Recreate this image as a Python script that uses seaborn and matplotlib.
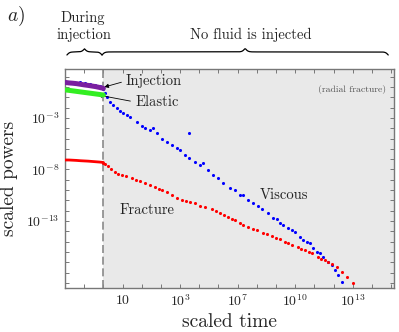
import numpy as np
import pandas as pd
import matplotlib
matplotlib.use("Agg")
import matplotlib.pyplot as plt
import matplotlib.transforms as mtransforms
import seaborn as sns

# x is the position on the scaled-time axis (tick index), y values are log10 of the scaled power
inj_t = [0.0, 0.2, 0.4, 0.6, 0.8, 1.0, 1.2, 1.4, 1.6, 1.8, 2.0]
injection_log = [0.45, 0.40, 0.37, 0.33, 0.27, 0.21, 0.16, 0.10, 0.04, -0.04, -0.13]
elastic_log = [-0.28, -0.32, -0.37, -0.42, -0.47, -0.52, -0.57, -0.62, -0.67, -0.72, -0.77]
fracture_inj_log = [-7.08, -7.08, -7.10, -7.12, -7.15, -7.17, -7.19, -7.22, -7.25, -7.28, -7.32]

viscous_t = [0.78, 1.04, 1.30, 1.56, 1.82,
             1.98, 2.08, 2.19, 2.34, 2.50, 2.71, 2.86, 3.02, 3.23, 3.39, 3.75, 4.01, 4.17,
             4.43, 4.58, 4.79, 5.05, 5.31, 5.57, 5.83, 5.99, 6.25, 6.46, 6.46, 6.77, 7.03,
             7.19, 7.45, 7.71, 7.97, 8.23, 8.59, 8.85, 9.11, 9.27, 9.53, 9.79, 10.05, 10.26,
             10.57, 10.83, 11.04, 11.20, 11.35, 11.61, 11.82, 11.98, 12.24, 12.40, 12.60,
             12.76, 12.92, 13.13, 13.28, 13.44, 13.70, 13.91, 14.06, 14.22, 14.43]
viscous_log = [0.50, 0.40, 0.30, 0.20, 0.11,
               -0.18, -0.57, -0.96, -1.45, -1.74, -2.03, -2.32, -2.51, -2.71, -2.90, -3.39,
               -3.78, -3.97, -4.17, -3.97, -4.46, -5.04, -5.33, -5.62, -5.91, -6.11, -6.59,
               -4.46, -6.88, -7.27, -7.56, -7.37, -8.05, -8.53, -8.83, -9.31, -9.80, -9.99,
               -10.48, -10.48, -10.96, -11.25, -11.54, -11.83, -12.22, -12.71, -12.81,
               -13.19, -13.39, -13.68, -13.87, -14.07, -14.55, -14.84, -15.04, -15.14,
               -15.62, -16.01, -16.11, -16.50, -16.98, -17.27, -17.76, -18.24, -18.92]

fracture_t = [1.98, 2.10, 2.24, 2.40, 2.60, 2.78, 2.97, 3.20, 3.49, 3.70, 3.91, 4.17, 4.45,
              4.69, 4.88, 5.05, 5.30, 5.57, 5.85, 6.09, 6.30, 6.51, 6.77, 7.03, 7.29, 7.66,
              7.85, 8.07, 8.30, 8.49, 8.70, 8.85, 9.11, 9.30, 9.53, 9.78, 10.0, 10.31, 10.55,
              10.78, 11.0, 11.2, 11.46, 11.65, 11.82, 12.14, 12.32, 12.5, 12.70, 12.86, 13.18,
              13.36, 13.54, 13.72, 13.91, 14.17, 14.43, 14.69, 15.0]
fracture_log = [-7.37, -7.50, -7.66, -7.95, -8.24, -8.40, -8.53, -8.68, -8.83, -8.98, -9.12,
                -9.31, -9.52, -9.70, -9.85, -9.99, -10.22, -10.48, -10.74, -10.96, -11.08,
                -11.16, -11.25, -11.54, -11.64, -11.83, -12.02, -12.22, -12.42, -12.61,
                -12.78, -12.90, -13.19, -13.38, -13.58, -13.74, -13.87, -14.17, -14.30,
                -14.46, -14.62, -14.75, -15.04, -15.18, -15.33, -15.52, -15.68, -15.82,
                -15.98, -16.11, -16.50, -16.64, -16.79, -16.98, -17.17, -17.47, -17.95,
                -18.44, -19.02]

time_tick_labels = ["$10$", "$10^{3}$", "$10^{7}$", "$10^{10}$", "$10^{13}$"]
power_tick_labels = {-3: "$10^{-3}$", -8: "$10^{-8}$", -13: "$10^{-13}$"}
t_end_injection = 2.0

sns.set_style("ticks")
plt.rcParams["mathtext.fontset"] = "cm"
plt.rcParams["font.family"] = ["cmr10", "DejaVu Serif"]
plt.rcParams["axes.unicode_minus"] = False

inj = pd.DataFrame({"t": inj_t, "Injection": 10.0 ** np.array(injection_log),
                    "Elastic": 10.0 ** np.array(elastic_log),
                    "Fracture": 10.0 ** np.array(fracture_inj_log)})
visc = pd.DataFrame({"t": viscous_t, "p": 10.0 ** np.array(viscous_log)})
frac = pd.DataFrame({"t": fracture_t, "p": 10.0 ** np.array(fracture_log)})

fig = plt.figure(figsize=(3.99, 3.32), dpi=100)
ax = fig.add_axes([65 / 399, 44 / 332, 329 / 399, 219 / 332])
ax.set_yscale("log")
ax.set_xlim(0, 17.15)
ax.set_ylim(10 ** -19.5, 10 ** 1.75)

ax.axvspan(t_end_injection, 17.15, color="#e9e9e9", zorder=0, lw=0)
ax.axvline(t_end_injection, color="#8a8a8a", lw=1.2, dashes=(4.8, 2.2), zorder=1)

sns.scatterplot(data=visc, x="t", y="p", color="#0000ff", s=5, linewidth=0, ax=ax, zorder=3)
sns.lineplot(data=inj, x="t", y="Injection", color="#7a1fa0", lw=3.6, ax=ax, zorder=4)
sns.lineplot(data=inj, x="t", y="Elastic", color="#33ee22", lw=3.6, ax=ax, zorder=4)
sns.lineplot(data=inj, x="t", y="Fracture", color="#ff0000", lw=2.0, ax=ax, zorder=4)
sns.scatterplot(data=frac, x="t", y="p", color="#ff0000", s=5, linewidth=0, ax=ax, zorder=3)

ax.set_xticks(range(0, 18))
ax.set_xticklabels([time_tick_labels[(k // 3) - 1] if k % 3 == 0 and 3 <= k <= 15 else ""
                    for k in range(0, 18)])
decades = list(range(-19, 2))
ax.set_yticks([10.0 ** k for k in decades])
ax.set_yticklabels([power_tick_labels.get(k, "") for k in decades])
ax.yaxis.set_minor_locator(matplotlib.ticker.NullLocator())
ax.tick_params(direction="in", length=3, width=0.7, color="#777777", labelsize=10,
               top=True, right=True, pad=4)
for sp in ax.spines.values():
    sp.set_color("#777777")
    sp.set_linewidth(1.0)

ax.set_xlabel("scaled time", fontsize=14, labelpad=3)
ax.set_ylabel("scaled powers", fontsize=14, labelpad=6)

ax.annotate("Injection", xy=(2.05, 10 ** 0.0), xytext=(3.18, 10 ** 0.59), fontsize=10.5,
            ha="left", va="center",
            arrowprops=dict(arrowstyle="-|>", color="black", lw=0.6, mutation_scale=6,
                            relpos=(0, 0.5), shrinkA=1, shrinkB=0))
ax.annotate("Elastic", xy=(1.72, 10 ** -0.77), xytext=(3.65, 10 ** -1.45), fontsize=10.5,
            ha="left", va="center",
            arrowprops=dict(arrowstyle="-|>", color="black", lw=0.6, mutation_scale=6,
                            relpos=(0, 0.5), shrinkA=1, shrinkB=0))
ax.text(4.27, 10 ** -11.93, "Fracture", fontsize=10.5, ha="center", va="center", color="#222222")
ax.text(11.4, 10 ** -10.48, "Viscous", fontsize=10.5, ha="center", va="center", color="#222222")
ax.text(0.975, 0.905, "(radial fracture)", transform=ax.transAxes, fontsize=7,
        ha="right", va="center", color="#555555")

# curly braces above the axes
trans = mtransforms.blended_transform_factory(ax.transData, ax.transAxes)


def brace(x0, x1, y0, h, beta):
    xs = np.linspace(x0, x1, 400)
    half = xs[:200]
    yh = 1 / (1 + np.exp(-beta * (half - half[0]))) + 1 / (1 + np.exp(-beta * (half - half[-1])))
    ys = np.concatenate([yh, yh[::-1]]) - 0.5
    ax.plot(xs, y0 + ys * h, color="black", lw=0.9, transform=trans, clip_on=False)


brace(0.1, 1.93, 1.064, 0.028, 14)
brace(1.93, 16.85, 1.064, 0.028, 14)

fig.text(83 / 399, 1 - 18 / 332, "During", fontsize=10.5, ha="center", va="center")
fig.text(84 / 399, 1 - 35 / 332, "injection", fontsize=10.5, ha="center", va="center")
fig.text(251 / 399, 1 - 35 / 332, "No fluid is injected", fontsize=10.5, ha="center", va="center")
fig.text(16 / 399, 1 - 16 / 332, "$a)$", fontsize=14, ha="center", va="center")

fig.savefig("out.png", dpi=100)
